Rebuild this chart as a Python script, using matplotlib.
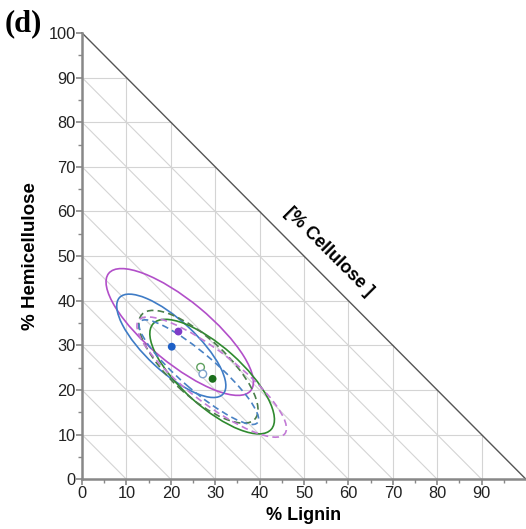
import numpy as np
import matplotlib.pyplot as plt
from matplotlib.patches import Ellipse

plt.rcParams['font.family'] = ['Liberation Sans', 'DejaVu Sans']

# confidence ellipses: centre (lignin, hemicellulose), semi-axes, rotation (deg)
ell_names = ['purple', 'blue', 'green', 'green_d', 'blue_d', 'purple_d']
ell_cx = [22.0, 20.1, 29.3, 26.2, 26.3, 29.2]
ell_cy = [33.0, 29.9, 23.0, 25.2, 24.0, 22.9]
ell_a = [20.7, 15.9, 17.8, 17.3, 17.4, 20.8]
ell_b = [7.0, 5.7, 6.7, 6.4, 4.0, 5.7]
ell_ang = [-39.4, -42.8, -41.6, -42.7, -40.6, -37.6]
ell_color = ['#b24fc9', '#3f7cc6', '#2f8a2f', '#4a7d4a', '#4a82c4', '#c27ad6']
ell_dashed = [False, False, False, True, True, True]

# group means
dot_x = [21.7, 20.2, 29.4]
dot_y = [33.1, 29.7, 22.5]
dot_color = ['#7e3cc8', '#1d5fc6', '#1b6e1b']
open_x = [26.7, 27.2]
open_y = [25.1, 23.6]
open_color = ['#5fa05f', '#7fa3cc']

ticks = list(range(0, 100, 10))

fig = plt.figure(figsize=(5.26, 5.29), dpi=100)
ax = fig.add_axes([0.156, 0.094, 0.844, 0.8437])
ax.set_xlim(0, 100)
ax.set_ylim(0, 100)

# ternary grid inside the triangle
gc = '#d4d4d4'
for v in range(10, 100, 10):
    ax.plot([v, v], [0, 100 - v], color=gc, lw=0.8, zorder=1)
    ax.plot([0, 100 - v], [v, v], color=gc, lw=0.8, zorder=1)
    ax.plot([v, 0], [0, v], color=gc, lw=0.8, zorder=1)
ax.plot([0, 100], [100, 0], color='#555555', lw=1.0, zorder=2, clip_on=False)

for cx, cy, a, b, ang, col, dsh in zip(ell_cx, ell_cy, ell_a, ell_b, ell_ang,
                                       ell_color, ell_dashed):
    e = Ellipse((cx, cy), 2 * a, 2 * b, angle=ang, fill=False, edgecolor=col,
                lw=1.2, linestyle=(0, (4, 2.5)) if dsh else '-', zorder=3)
    ax.add_patch(e)

ax.scatter(dot_x, dot_y, s=32, c=dot_color, zorder=5, linewidths=0)
ax.scatter(open_x, open_y, s=30, facecolors='white', edgecolors=open_color,
           linewidths=1.0, zorder=4)

ax.set_xticks(ticks)
ax.set_yticks(list(range(0, 101, 10)))
ax.set_xticks(list(range(5, 100, 10)), minor=True)
ax.set_yticks(list(range(5, 100, 10)), minor=True)
ax.tick_params(which='major', direction='out', length=4, width=1.2,
               color='#888888', labelsize=11.8, labelcolor='#222222', pad=0.5)
ax.tick_params(which='minor', direction='out', length=3, width=1.0, color='#888888')

for s in ['top', 'right']:
    ax.spines[s].set_visible(False)
for s in ['left', 'bottom']:
    ax.spines[s].set_color('#888888')
    ax.spines[s].set_linewidth(1.8)

ax.set_xlabel('% Lignin', fontsize=13, fontweight='bold', labelpad=5)
ax.set_ylabel('% Hemicellulose', fontsize=13.5, fontweight='bold', labelpad=7)
ax.text(55.6, 50.9, '[% Cellulose ]', rotation=-45, ha='center', va='center',
        fontsize=13, fontweight='bold', rotation_mode='anchor')

fig.text(0.008, 0.982, '(d)', fontsize=22, fontweight='bold',
         family='Liberation Serif', va='top', ha='left')

fig.savefig('out.png', dpi=100)
